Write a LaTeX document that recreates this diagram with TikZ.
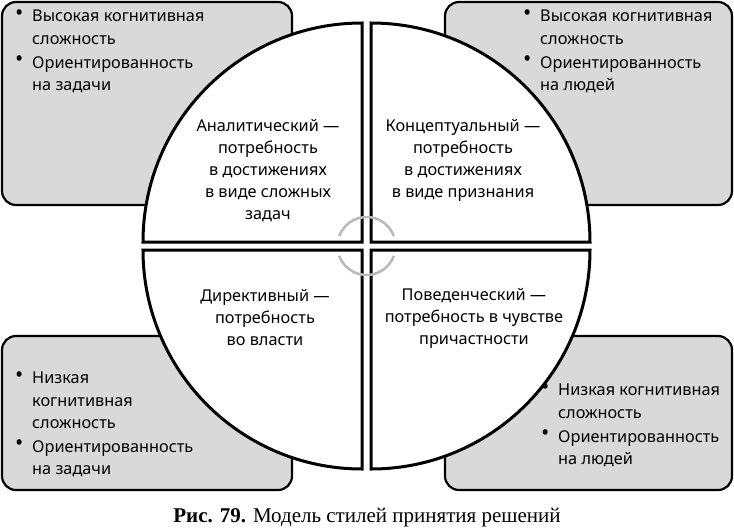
\documentclass[tikz,border=0pt]{standalone}
\usepackage{fontspec}
\setmainfont{Noto Sans}
\newfontfamily\capfont{Liberation Serif}
\begin{document}
\begin{tikzpicture}[x=1pt,y=-1pt,
  box/.style={draw=black,line width=2.2pt,fill=gray!30,rounded corners=14pt},
  quad/.style={draw=black,line width=3pt,fill=white},
  txt/.style={font=\fontsize{16.3}{22}\selectfont,align=center,inner sep=0},
  item/.style={font=\fontsize{16.3}{22.5}\selectfont,align=left,anchor=north west,inner sep=0},
  bul/.style={font=\fontsize{22}{22}\selectfont,anchor=north west,inner sep=0},
  garc/.style={draw=gray!55,line width=2.5pt}]
\useasboundingbox (0,0) rectangle (734,531);
\draw[box] (2,2) rectangle (292,205);
\draw[box] (445,2) rectangle (732,205);
\draw[box] (2,336) rectangle (292,490);
\draw[box] (445,336) rectangle (732,490);
\def\R{219}
\draw[quad] (362,242) -- ++(-\R,0) arc[start angle=180,end angle=270,radius=\R] -- cycle;
\draw[quad] (371,242) -- ++(0,-\R) arc[start angle=270,end angle=360,radius=\R] -- cycle;
\draw[quad] (362,250) -- ++(0,\R) arc[start angle=90,end angle=180,radius=\R] -- cycle;
\draw[quad] (371,250) -- ++(\R,0) arc[start angle=0,end angle=90,radius=\R] -- cycle;
\draw[garc] (366.5,246) ++(200:29) arc[start angle=200,end angle=340,radius=29];
\draw[garc] (366.5,246) ++(160:29) arc[start angle=160,end angle=20,radius=29];
\node[txt] (a) at (268,171) {Аналитический —\\потребность\\в достижениях\\в виде сложных\\задач};
\node[txt] (k) at (463,160) {Концептуальный —\\потребность\\в достижениях\\в виде признания};
\node[txt] (d) at (265,318) {Директивный —\\потребность\\во власти};
\node[txt] (p) at (474,318) {Поведенческий —\\потребность в чувстве\\причастности};
% top-left
\node[bul] (b1) at (15,10) {•}; \node[item] (i1) at (32,10) {Высокая когнитивная\\сложность};
\node[bul] (b2) at (15,56) {•}; \node[item] (i2) at (32,56) {Ориентированность\\на задачи};
% top-right
\node[bul] (b3) at (523,10) {•}; \node[item] (i3) at (540,10) {Высокая когнитивная\\сложность};
\node[bul] (b4) at (523,56) {•}; \node[item] (i4) at (540,56) {Ориентированность\\на людей};
% bottom-left
\node[bul] (b5) at (15,372) {•}; \node[item] (i5) at (32,372) {Низкая\\когнитивная\\сложность};
\node[bul] (b6) at (15,440) {•}; \node[item] (i6) at (32,440) {Ориентированность\\на задачи};
% bottom-right
\node[bul] (b7) at (541,384) {•}; \node[item] (i7) at (558,384) {Низкая когнитивная\\сложность};
\node[bul] (b8) at (541,430) {•}; \node[item] (i8) at (558,430) {Ориентированность\\на людей};
\node[font=\capfont\fontsize{21}{22}\selectfont] (cap) at (367,518) {\textbf{Рис. 79.} Модель стилей принятия решений};
\end{tikzpicture}
\end{document}
